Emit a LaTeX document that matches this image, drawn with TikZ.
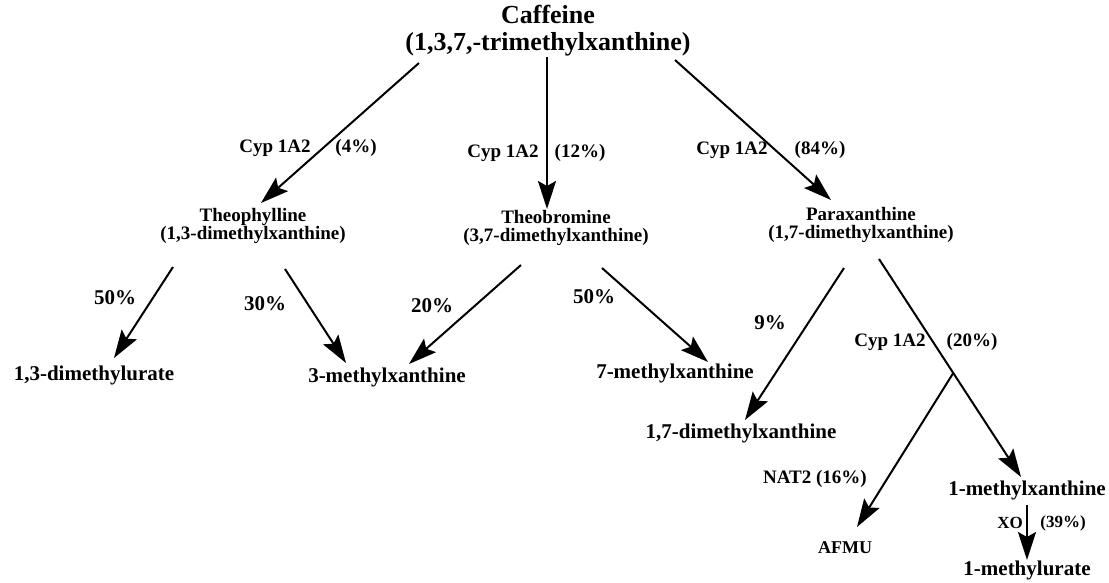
\documentclass[tikz,border=0pt]{standalone}
\usepackage{fontspec}
\setmainfont{Liberation Serif}
\usetikzlibrary{arrows.meta,calc}
\tikzset{
  title/.style={font=\fontsize{13}{13.5}\selectfont\bfseries,align=center,inner sep=0pt},
  compound/.style={font=\fontsize{9.5}{9}\selectfont\bfseries,align=center,inner sep=0pt},
  product/.style={font=\fontsize{10.5}{11}\selectfont\bfseries,inner sep=0pt},
  enzyme/.style={font=\fontsize{9.5}{10}\selectfont\bfseries,inner sep=0pt},
  minor/.style={font=\fontsize{8.5}{9}\selectfont\bfseries,inner sep=0pt},
  pct/.style={font=\fontsize{10.5}{11}\selectfont\bfseries,inner sep=0pt},
  arr/.style={-{Stealth[length=14pt,width=9pt,inset=2.5pt]},line width=1pt}
}

\begin{document}
\begin{tikzpicture}[x=0.5pt,y=-0.5pt]
  \useasboundingbox (0,0) rectangle (1109,583);
  % compounds
  \node[title] (caf) at (548,31) {Caffeine\\(1,3,7,-trimethylxanthine)};
  \node[compound] (theo) at (253,226) {Theophylline\\(1,3-dimethylxanthine)};
  \node[compound] (tbr) at (556,228) {Theobromine\\(3,7-dimethylxanthine)};
  \node[compound] (para) at (861,225) {Paraxanthine\\(1,7-dimethylxanthine)};
  \node[product] (dmu) at (94,375) {1,3-dimethylurate};
  \node[product] (mx3) at (387,377) {3-methylxanthine};
  \node[product] (mx7) at (675,373) {7-methylxanthine};
  \node[product] (dmx17) at (741,433) {1,7-dimethylxanthine};
  \node[product] (mx1) at (1027,490) {1-methylxanthine};
  \node[product] (mu1) at (1027,570) {1-methylurate};
  \node[font=\fontsize{9}{9}\selectfont\bfseries,inner sep=0pt] (afmu) at (845,548) {AFMU};

  % enzymes and shares
  \node[enzyme] (cyp1) at (275,148) {Cyp 1A2};
  \node[enzyme] (p4) at (356,148) {(4\%)};
  \node[enzyme] (cyp2) at (503,153) {Cyp 1A2};
  \node[enzyme] (p12) at (580,153) {(12\%)};
  \node[enzyme] (cyp3) at (732,150) {Cyp 1A2};
  \node[enzyme] (p84) at (820,150) {(84\%)};
  \node[pct] (l50a) at (115,298) {50\%};
  \node[pct] (l30) at (265,304) {30\%};
  \node[pct] (l20) at (432,306) {20\%};
  \node[pct] (l50b) at (594,297) {50\%};
  \node[pct] (l9) at (770,323) {9\%};
  \node[enzyme] (cyp4) at (890,342) {Cyp 1A2};
  \node[enzyme] (p20) at (972,342) {(20\%)};
  \node[enzyme] (nat) at (815,479) {NAT2 (16\%)};
  \node[minor] (xo) at (1010,523) {XO};
  \node[minor] (p39) at (1063,523) {(39\%)};

  % pathways
  \draw[arr] ($(caf)+(-129,32)$) -- ($(theo)+(8,-23)$);
  \draw[arr] ($(caf)+(-1,26)$) -- ($(tbr)+(-9,-19)$);
  \draw[arr] ($(caf)+(127,29)$) -- ($(para)+(-30,-25)$);
  \draw[arr] ($(theo)+(-80,41)$) -- ($(dmu)+(20,-17)$);
  \draw[arr] ($(theo)+(32,43)$) -- ($(mx3)+(-41,-14)$);
  \draw[arr] ($(tbr)+(-35,37)$) -- ($(mx3)+(22,-13)$);
  \draw[arr] ($(tbr)+(46,40)$) -- ($(mx7)+(33,-11)$);
  \draw[arr] ($(para)+(-17,43)$) -- ($(dmx17)+(4,-13)$);
  \draw[arr] ($(para)+(18,34)$) -- coordinate[pos=0.523] (split) ($(mx1)+(-6,-13)$);
  \draw[arr] (split) -- ($(afmu)+(12,-21)$);
  \draw[arr] ($(mx1)+(0,15)$) -- ($(mu1)+(0,-10)$);
\end{tikzpicture}
\end{document}
